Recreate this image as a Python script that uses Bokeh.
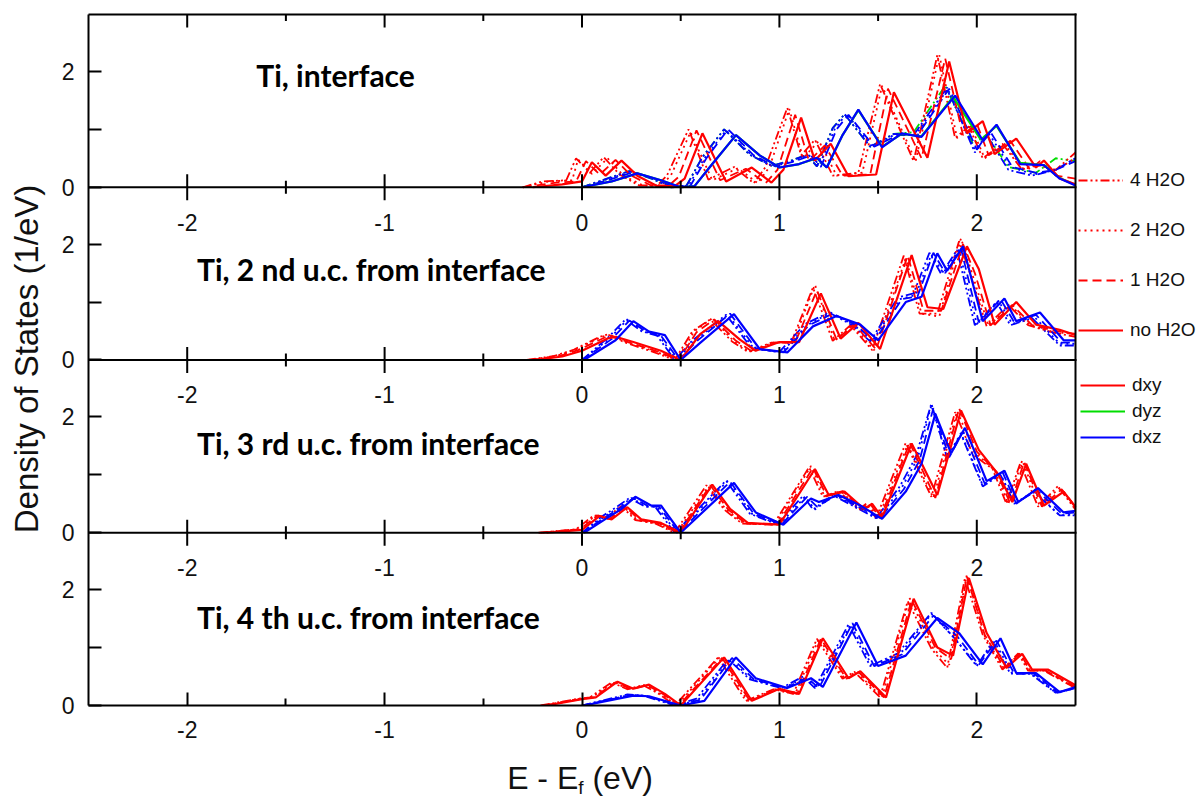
import math
from bokeh.plotting import figure
from bokeh.models import (Range1d, FixedTicker, CustomJSTickFormatter, Legend,
                          LegendItem, Div)
from bokeh.layouts import column
from bokeh.core.properties import value
from bokeh.embed import file_html
from bokeh.resources import INLINE

# ---------------- axis / label data ----------------
X_TICKS = [-2, -1, 0, 1, 2]
X_TICK_LABELS = ["-2", "-1", "0", "1", "2"]
X_MINOR = [-1.5, -0.5, 0.5, 1.5]
X_MIN, X_MAX = -2.5, 2.5
Y_TICKS = [0, 2]
Y_MINOR = [1]
PANEL_TITLES = ["Ti, interface", "Ti, 2 nd u.c. from interface",
                "Ti, 3 rd u.c. from interface", "Ti, 4 th u.c. from interface"]
H2O_LABELS = ["4 H2O", "2 H2O", "1 H2O", "no H2O"]
ORBITAL_LABELS = ["dxy", "dyz", "dxz"]
X_TITLE_HTML = "E - E<sub style=\"font-size:19px;vertical-align:-5px;line-height:0\">f</sub> (eV)"
Y_TITLE = "Density of States (1/eV)"

# ---------------- panel 1 : interface ----------------
P1_DXY_NO_X = [-0.25, -0.1, 0.0, 0.05, 0.12, 0.2, 0.28, 0.38, 0.47, 0.52, 0.61, 0.73, 0.86, 0.96, 1.02, 1.11, 1.18, 1.26, 1.35, 1.49, 1.58, 1.75, 1.86, 1.95, 2.03, 2.09, 2.2, 2.3, 2.34, 2.42, 2.5]
P1_DXY_NO_Y = [0.0, 0.05, 0.1, 0.43, 0.2, 0.46, 0.2, 0.02, 0.02, 0.15, 0.93, 0.1, 0.34, 0.08, 0.3, 1.2, 0.46, 0.75, 0.19, 0.22, 1.64, 0.51, 2.17, 0.93, 1.14, 0.57, 0.84, 0.34, 0.46, 0.15, 0.05]
P1_DXY_1_X = [-0.3, -0.13, -0.03, 0.02, 0.09, 0.17, 0.25, 0.35, 0.44, 0.49, 0.58, 0.7, 0.83, 0.93, 0.99, 1.08, 1.15, 1.23, 1.32, 1.46, 1.55, 1.72, 1.84, 1.93, 2.0, 2.06, 2.17, 2.27, 2.32, 2.4, 2.5]
P1_DXY_1_Y = [0.0, 0.08, 0.1, 0.45, 0.22, 0.47, 0.2, 0.03, 0.03, 0.18, 0.98, 0.12, 0.32, 0.07, 0.3, 1.25, 0.45, 0.72, 0.2, 0.22, 1.7, 0.5, 2.22, 0.9, 1.1, 0.55, 0.8, 0.3, 0.45, 0.2, 0.15]
P1_DXY_2_X = [-0.3, -0.17, -0.05, -0.02, 0.05, 0.13, 0.21, 0.31, 0.4, 0.45, 0.55, 0.66, 0.79, 0.89, 0.95, 1.05, 1.12, 1.2, 1.29, 1.42, 1.52, 1.69, 1.81, 1.9, 1.97, 2.04, 2.14, 2.24, 2.3, 2.4, 2.5]
P1_DXY_2_Y = [0.0, 0.1, 0.12, 0.48, 0.23, 0.5, 0.2, 0.03, 0.03, 0.2, 0.95, 0.12, 0.33, 0.07, 0.35, 1.35, 0.5, 0.8, 0.2, 0.25, 1.75, 0.45, 2.28, 0.85, 1.05, 0.5, 0.75, 0.3, 0.4, 0.3, 0.5]
P1_DXY_4_X = [-0.3, -0.2, -0.08, -0.03, 0.04, 0.11, 0.19, 0.29, 0.38, 0.43, 0.54, 0.64, 0.77, 0.87, 0.93, 1.04, 1.11, 1.18, 1.27, 1.4, 1.51, 1.68, 1.8, 1.89, 1.96, 2.03, 2.13, 2.23, 2.29, 2.4, 2.5]
P1_DXY_4_Y = [0.0, 0.1, 0.12, 0.5, 0.25, 0.52, 0.22, 0.03, 0.03, 0.2, 1.0, 0.13, 0.35, 0.07, 0.35, 1.37, 0.55, 0.82, 0.2, 0.25, 1.78, 0.45, 2.28, 0.85, 1.05, 0.5, 0.75, 0.3, 0.4, 0.3, 0.6]

P1_DXZ_NO_X = [0.0, 0.15, 0.28, 0.4, 0.5, 0.57, 0.66, 0.78, 0.9, 1.0, 1.1, 1.19, 1.24, 1.32, 1.4, 1.52, 1.62, 1.72, 1.89, 2.03, 2.1, 2.22, 2.34, 2.42, 2.5]
P1_DXZ_NO_Y = [0.0, 0.1, 0.24, 0.12, 0.0, 0.02, 0.4, 0.9, 0.55, 0.34, 0.4, 0.51, 0.34, 0.9, 1.34, 0.69, 0.93, 0.87, 1.58, 0.81, 1.08, 0.4, 0.38, 0.15, 0.03]
P1_DXZ_1_X = [0.0, 0.13, 0.26, 0.38, 0.47, 0.55, 0.63, 0.74, 0.87, 0.98, 1.08, 1.16, 1.21, 1.29, 1.35, 1.48, 1.6, 1.7, 1.86, 2.0, 2.07, 2.18, 2.3, 2.4, 2.5]
P1_DXZ_1_Y = [0.0, 0.12, 0.26, 0.13, 0.0, 0.03, 0.5, 1.0, 0.55, 0.36, 0.45, 0.55, 0.35, 1.0, 1.25, 0.7, 0.9, 0.9, 1.7, 0.65, 0.95, 0.35, 0.25, 0.3, 0.45]
P1_DXZ_2_X = [0.0, 0.12, 0.25, 0.37, 0.46, 0.54, 0.62, 0.73, 0.86, 0.97, 1.07, 1.15, 1.2, 1.28, 1.34, 1.47, 1.59, 1.69, 1.85, 1.99, 2.06, 2.17, 2.29, 2.4, 2.5]
P1_DXZ_2_Y = [0.0, 0.13, 0.27, 0.14, 0.0, 0.03, 0.5, 0.98, 0.55, 0.36, 0.45, 0.55, 0.36, 1.0, 1.27, 0.7, 0.92, 0.9, 1.68, 0.65, 0.93, 0.35, 0.22, 0.3, 0.5]
P1_DXZ_4_X = [0.0, 0.12, 0.24, 0.36, 0.45, 0.53, 0.61, 0.72, 0.85, 0.96, 1.06, 1.14, 1.19, 1.27, 1.33, 1.46, 1.58, 1.68, 1.85, 1.99, 2.05, 2.16, 2.28, 2.4, 2.5]
P1_DXZ_4_Y = [0.0, 0.14, 0.28, 0.14, 0.0, 0.03, 0.52, 1.0, 0.56, 0.37, 0.46, 0.56, 0.36, 1.02, 1.26, 0.7, 0.92, 0.9, 1.72, 0.6, 0.9, 0.3, 0.2, 0.3, 0.5]

P1_DYZ_NO_X = [0.0, 0.15, 0.28, 0.4, 0.5, 0.57, 0.66, 0.78, 0.9, 1.0, 1.1, 1.19, 1.24, 1.32, 1.4, 1.52, 1.62, 1.72, 1.88, 2.02, 2.1, 2.22, 2.34, 2.42, 2.5]
P1_DYZ_NO_Y = [0.0, 0.1, 0.24, 0.12, 0.0, 0.02, 0.4, 0.9, 0.55, 0.34, 0.4, 0.5, 0.34, 0.9, 1.33, 0.7, 0.92, 0.88, 1.56, 0.82, 1.06, 0.42, 0.38, 0.16, 0.04]
P1_DYZ_4_X = [0.0, 0.12, 0.24, 0.36, 0.45, 0.53, 0.61, 0.72, 0.85, 0.96, 1.06, 1.14, 1.19, 1.27, 1.33, 1.46, 1.58, 1.68, 1.84, 1.98, 2.05, 2.16, 2.3, 2.4, 2.5]
P1_DYZ_4_Y = [0.0, 0.14, 0.28, 0.14, 0.0, 0.03, 0.52, 1.0, 0.56, 0.37, 0.46, 0.56, 0.36, 1.02, 1.26, 0.7, 0.92, 0.95, 1.75, 0.75, 0.9, 0.35, 0.25, 0.5, 0.45]

# ---------------- panel 2 ----------------
P2_DXY_NO_X = [-0.24, -0.1, 0.0, 0.13, 0.17, 0.26, 0.4, 0.5, 0.6, 0.69, 0.8, 0.88, 1.0, 1.1, 1.21, 1.31, 1.4, 1.51, 1.67, 1.75, 1.83, 1.95, 2.01, 2.09, 2.2, 2.3, 2.42, 2.5]
P2_DXY_NO_Y = [0.0, 0.06, 0.16, 0.37, 0.4, 0.31, 0.16, 0.0, 0.45, 0.67, 0.35, 0.16, 0.31, 0.31, 1.15, 0.37, 0.64, 0.19, 1.81, 0.91, 0.88, 1.96, 1.57, 0.61, 1.0, 0.61, 0.52, 0.43]
P2_DXY_1_X = [-0.26, -0.12, -0.02, 0.11, 0.15, 0.24, 0.38, 0.49, 0.58, 0.67, 0.78, 0.86, 0.98, 1.08, 1.19, 1.29, 1.38, 1.49, 1.65, 1.73, 1.82, 1.93, 1.99, 2.07, 2.18, 2.28, 2.4, 2.5]
P2_DXY_1_Y = [0.0, 0.06, 0.17, 0.38, 0.42, 0.3, 0.15, 0.0, 0.48, 0.7, 0.33, 0.15, 0.3, 0.3, 1.2, 0.35, 0.62, 0.18, 1.8, 0.85, 0.85, 2.0, 1.5, 0.6, 0.95, 0.6, 0.5, 0.45]
P2_DXY_2_X = [-0.27, -0.13, -0.03, 0.1, 0.14, 0.23, 0.37, 0.48, 0.57, 0.66, 0.77, 0.85, 0.97, 1.07, 1.18, 1.28, 1.37, 1.48, 1.64, 1.72, 1.81, 1.92, 1.98, 2.06, 2.17, 2.27, 2.39, 2.5]
P2_DXY_2_Y = [0.0, 0.07, 0.18, 0.4, 0.43, 0.3, 0.15, 0.0, 0.5, 0.72, 0.32, 0.14, 0.3, 0.3, 1.3, 0.33, 0.6, 0.17, 1.75, 0.8, 0.75, 2.1, 1.45, 0.58, 0.95, 0.6, 0.48, 0.45]
P2_DXY_4_X = [-0.28, -0.14, -0.04, 0.09, 0.13, 0.22, 0.36, 0.47, 0.56, 0.65, 0.76, 0.84, 0.96, 1.06, 1.17, 1.27, 1.36, 1.47, 1.63, 1.71, 1.8, 1.91, 1.97, 2.05, 2.16, 2.26, 2.38, 2.5]
P2_DXY_4_Y = [0.0, 0.07, 0.18, 0.4, 0.44, 0.3, 0.14, 0.0, 0.5, 0.7, 0.32, 0.14, 0.3, 0.3, 1.25, 0.33, 0.6, 0.17, 1.8, 0.8, 0.8, 2.05, 1.45, 0.58, 0.95, 0.6, 0.48, 0.4]

P2_DXZ_NO_X = [0.01, 0.17, 0.26, 0.34, 0.42, 0.5, 0.6, 0.77, 0.9, 1.04, 1.17, 1.29, 1.41, 1.5, 1.64, 1.72, 1.8, 1.85, 1.93, 2.03, 2.14, 2.2, 2.32, 2.44, 2.5]
P2_DXZ_NO_Y = [0.0, 0.34, 0.67, 0.49, 0.43, 0.0, 0.3, 0.79, 0.19, 0.13, 0.58, 0.76, 0.61, 0.34, 1.0, 1.09, 1.84, 1.54, 1.96, 0.67, 1.06, 0.67, 0.82, 0.34, 0.34]
P2_DXZ_1_X = [0.0, 0.15, 0.24, 0.32, 0.4, 0.49, 0.58, 0.75, 0.88, 1.02, 1.15, 1.27, 1.39, 1.48, 1.62, 1.7, 1.78, 1.84, 1.92, 2.01, 2.12, 2.19, 2.3, 2.43, 2.5]
P2_DXZ_1_Y = [0.0, 0.36, 0.68, 0.5, 0.42, 0.0, 0.32, 0.8, 0.2, 0.13, 0.6, 0.8, 0.6, 0.32, 1.05, 1.1, 1.85, 1.5, 1.92, 0.65, 1.05, 0.65, 0.78, 0.3, 0.3]
P2_DXZ_2_X = [0.0, 0.14, 0.23, 0.31, 0.39, 0.48, 0.57, 0.74, 0.87, 1.01, 1.14, 1.26, 1.38, 1.47, 1.61, 1.69, 1.77, 1.83, 1.91, 2.0, 2.11, 2.18, 2.29, 2.42, 2.5]
P2_DXZ_2_Y = [0.0, 0.37, 0.7, 0.5, 0.42, 0.0, 0.33, 0.78, 0.2, 0.13, 0.6, 0.82, 0.6, 0.32, 1.05, 1.12, 1.82, 1.5, 1.9, 0.62, 1.02, 0.62, 0.75, 0.28, 0.28]
P2_DXZ_4_X = [0.0, 0.13, 0.22, 0.3, 0.38, 0.47, 0.56, 0.73, 0.86, 1.0, 1.13, 1.25, 1.37, 1.46, 1.6, 1.68, 1.76, 1.82, 1.9, 1.99, 2.1, 2.17, 2.28, 2.42, 2.5]
P2_DXZ_4_Y = [0.0, 0.38, 0.7, 0.5, 0.42, 0.0, 0.34, 0.78, 0.2, 0.14, 0.62, 0.82, 0.6, 0.32, 1.08, 1.15, 1.85, 1.48, 1.9, 0.6, 1.0, 0.6, 0.72, 0.25, 0.25]

# ---------------- panel 3 ----------------
P3_DXY_NO_X = [-0.18, 0.0, 0.09, 0.15, 0.23, 0.3, 0.4, 0.5, 0.66, 0.75, 0.84, 1.0, 1.18, 1.25, 1.33, 1.43, 1.47, 1.52, 1.67, 1.8, 1.92, 2.01, 2.11, 2.18, 2.25, 2.34, 2.44, 2.5]
P3_DXY_NO_Y = [0.0, 0.05, 0.29, 0.23, 0.44, 0.23, 0.17, 0.0, 0.83, 0.41, 0.17, 0.14, 1.1, 0.65, 0.71, 0.41, 0.5, 0.26, 1.54, 0.65, 2.11, 1.43, 1.0, 0.53, 1.19, 0.47, 0.71, 0.44]
P3_DXY_1_X = [-0.2, -0.01, 0.08, 0.14, 0.22, 0.29, 0.39, 0.49, 0.65, 0.74, 0.83, 0.99, 1.17, 1.24, 1.32, 1.42, 1.46, 1.51, 1.66, 1.79, 1.91, 2.0, 2.1, 2.17, 2.24, 2.33, 2.43, 2.5]
P3_DXY_1_Y = [0.0, 0.06, 0.3, 0.24, 0.45, 0.22, 0.16, 0.0, 0.82, 0.4, 0.16, 0.14, 1.12, 0.63, 0.72, 0.4, 0.5, 0.25, 1.55, 0.6, 2.15, 1.4, 1.05, 0.5, 1.22, 0.45, 0.75, 0.45]
P3_DXY_2_X = [-0.21, -0.02, 0.07, 0.13, 0.21, 0.28, 0.38, 0.48, 0.64, 0.73, 0.82, 0.98, 1.16, 1.23, 1.31, 1.41, 1.45, 1.5, 1.65, 1.78, 1.9, 1.99, 2.09, 2.16, 2.23, 2.32, 2.42, 2.5]
P3_DXY_2_Y = [0.0, 0.06, 0.3, 0.24, 0.45, 0.22, 0.16, 0.0, 0.8, 0.4, 0.16, 0.14, 1.15, 0.62, 0.72, 0.4, 0.5, 0.25, 1.52, 0.6, 2.1, 1.38, 1.08, 0.5, 1.25, 0.45, 0.78, 0.45]
P3_DXY_4_X = [-0.22, -0.03, 0.06, 0.12, 0.2, 0.27, 0.37, 0.47, 0.63, 0.72, 0.81, 0.97, 1.15, 1.22, 1.3, 1.4, 1.44, 1.49, 1.64, 1.77, 1.89, 1.98, 2.08, 2.15, 2.22, 2.31, 2.41, 2.5]
P3_DXY_4_Y = [0.0, 0.06, 0.3, 0.25, 0.46, 0.22, 0.16, 0.0, 0.82, 0.4, 0.16, 0.14, 1.13, 0.62, 0.72, 0.4, 0.5, 0.25, 1.55, 0.62, 2.08, 1.35, 1.1, 0.5, 1.2, 0.45, 0.8, 0.4]

P3_DXZ_NO_X = [0.01, 0.13, 0.2, 0.27, 0.35, 0.4, 0.5, 0.77, 0.88, 1.02, 1.16, 1.2, 1.3, 1.41, 1.52, 1.64, 1.72, 1.79, 1.87, 1.94, 2.05, 2.14, 2.21, 2.31, 2.44, 2.5]
P3_DXZ_NO_Y = [0.0, 0.26, 0.41, 0.62, 0.47, 0.47, 0.0, 0.86, 0.35, 0.14, 0.59, 0.53, 0.65, 0.47, 0.24, 0.71, 1.19, 2.05, 1.37, 1.81, 0.89, 1.07, 0.53, 0.77, 0.35, 0.38]
P3_DXZ_1_X = [0.0, 0.12, 0.19, 0.26, 0.34, 0.39, 0.49, 0.75, 0.87, 1.01, 1.14, 1.19, 1.29, 1.4, 1.51, 1.63, 1.71, 1.78, 1.86, 1.93, 2.04, 2.13, 2.2, 2.3, 2.43, 2.5]
P3_DXZ_1_Y = [0.0, 0.27, 0.42, 0.6, 0.45, 0.45, 0.0, 0.88, 0.33, 0.14, 0.62, 0.45, 0.65, 0.45, 0.25, 0.75, 1.25, 2.15, 1.3, 1.75, 0.85, 1.05, 0.5, 0.75, 0.33, 0.35]
P3_DXZ_2_X = [0.0, 0.11, 0.18, 0.25, 0.33, 0.38, 0.48, 0.74, 0.86, 1.0, 1.13, 1.18, 1.28, 1.39, 1.5, 1.62, 1.7, 1.77, 1.85, 1.92, 2.03, 2.12, 2.19, 2.29, 2.42, 2.5]
P3_DXZ_2_Y = [0.0, 0.27, 0.42, 0.6, 0.45, 0.45, 0.0, 0.9, 0.33, 0.14, 0.62, 0.4, 0.65, 0.45, 0.25, 0.78, 1.28, 2.2, 1.3, 1.72, 0.82, 1.02, 0.5, 0.72, 0.3, 0.32]
P3_DXZ_4_X = [0.0, 0.1, 0.17, 0.24, 0.32, 0.37, 0.47, 0.73, 0.85, 0.99, 1.12, 1.17, 1.27, 1.38, 1.49, 1.61, 1.69, 1.77, 1.85, 1.92, 2.03, 2.12, 2.19, 2.29, 2.42, 2.5]
P3_DXZ_4_Y = [0.0, 0.28, 0.43, 0.6, 0.45, 0.45, 0.0, 0.9, 0.33, 0.14, 0.64, 0.4, 0.65, 0.45, 0.25, 0.8, 1.3, 2.23, 1.28, 1.7, 0.8, 1.0, 0.5, 0.7, 0.3, 0.3]

# ---------------- panel 4 ----------------
P4_DXY_NO_X = [-0.18, 0.0, 0.07, 0.18, 0.26, 0.34, 0.42, 0.5, 0.72, 0.86, 1.0, 1.1, 1.22, 1.35, 1.41, 1.54, 1.68, 1.8, 1.88, 1.96, 2.05, 2.15, 2.23, 2.28, 2.36, 2.5]
P4_DXY_NO_Y = [0.0, 0.11, 0.14, 0.41, 0.29, 0.36, 0.2, 0.0, 0.83, 0.08, 0.29, 0.2, 1.16, 0.47, 0.59, 0.14, 1.84, 1.0, 0.86, 2.2, 1.25, 0.65, 0.89, 0.62, 0.62, 0.35]
P4_DXY_1_X = [-0.19, -0.01, 0.06, 0.17, 0.25, 0.33, 0.41, 0.49, 0.71, 0.85, 0.99, 1.09, 1.21, 1.34, 1.4, 1.53, 1.67, 1.79, 1.87, 1.95, 2.04, 2.14, 2.22, 2.27, 2.35, 2.5]
P4_DXY_1_Y = [0.0, 0.11, 0.14, 0.4, 0.28, 0.35, 0.2, 0.0, 0.82, 0.08, 0.28, 0.2, 1.15, 0.46, 0.58, 0.14, 1.82, 1.0, 0.8, 2.22, 1.22, 0.65, 0.9, 0.6, 0.6, 0.32]
P4_DXY_2_X = [-0.2, -0.02, 0.05, 0.16, 0.24, 0.32, 0.4, 0.48, 0.7, 0.84, 0.98, 1.08, 1.2, 1.33, 1.39, 1.52, 1.66, 1.78, 1.86, 1.95, 2.04, 2.14, 2.22, 2.27, 2.35, 2.5]
P4_DXY_2_Y = [0.0, 0.11, 0.14, 0.4, 0.28, 0.35, 0.2, 0.0, 0.84, 0.08, 0.28, 0.2, 1.16, 0.46, 0.58, 0.14, 1.85, 0.98, 0.7, 2.26, 1.2, 0.62, 0.88, 0.6, 0.6, 0.3]
P4_DXY_4_X = [-0.21, -0.03, 0.04, 0.15, 0.23, 0.31, 0.39, 0.47, 0.69, 0.83, 0.97, 1.07, 1.19, 1.32, 1.38, 1.51, 1.65, 1.77, 1.85, 1.94, 2.03, 2.13, 2.21, 2.26, 2.34, 2.5]
P4_DXY_4_Y = [0.0, 0.11, 0.14, 0.4, 0.28, 0.35, 0.2, 0.0, 0.83, 0.08, 0.28, 0.2, 1.15, 0.46, 0.58, 0.14, 1.8, 0.98, 0.65, 2.2, 1.22, 0.62, 0.9, 0.6, 0.6, 0.3]

P4_DXZ_NO_X = [0.01, 0.26, 0.34, 0.5, 0.62, 0.78, 0.88, 1.04, 1.16, 1.22, 1.39, 1.5, 1.64, 1.8, 1.91, 2.03, 2.12, 2.2, 2.3, 2.42, 2.5]
P4_DXZ_NO_Y = [0.0, 0.17, 0.16, 0.0, 0.08, 0.83, 0.47, 0.3, 0.47, 0.32, 1.43, 0.68, 0.86, 1.51, 1.25, 0.71, 1.16, 0.56, 0.56, 0.23, 0.32]
P4_DXZ_1_X = [0.0, 0.25, 0.33, 0.49, 0.6, 0.76, 0.87, 1.03, 1.14, 1.2, 1.37, 1.48, 1.62, 1.78, 1.9, 2.01, 2.1, 2.19, 2.29, 2.41, 2.5]
P4_DXZ_1_Y = [0.0, 0.18, 0.16, 0.0, 0.1, 0.82, 0.45, 0.3, 0.48, 0.3, 1.42, 0.68, 0.88, 1.55, 1.2, 0.7, 1.12, 0.55, 0.55, 0.22, 0.3]
P4_DXZ_2_X = [0.0, 0.24, 0.32, 0.48, 0.59, 0.75, 0.86, 1.02, 1.13, 1.19, 1.36, 1.47, 1.61, 1.77, 1.89, 2.0, 2.09, 2.18, 2.28, 2.4, 2.5]
P4_DXZ_2_Y = [0.0, 0.18, 0.17, 0.0, 0.1, 0.8, 0.45, 0.3, 0.48, 0.3, 1.4, 0.68, 0.88, 1.58, 1.15, 0.7, 1.1, 0.55, 0.55, 0.22, 0.3]
P4_DXZ_4_X = [0.0, 0.23, 0.31, 0.47, 0.58, 0.74, 0.85, 1.01, 1.12, 1.18, 1.35, 1.46, 1.6, 1.77, 1.89, 2.0, 2.08, 2.17, 2.27, 2.4, 2.5]
P4_DXZ_4_Y = [0.0, 0.19, 0.17, 0.0, 0.12, 0.8, 0.45, 0.3, 0.5, 0.3, 1.4, 0.68, 0.9, 1.6, 1.15, 0.68, 1.1, 0.55, 0.55, 0.22, 0.3]

# ---------------- assemble ----------------
CURVES = [
    {"dxy": {"4": (P1_DXY_4_X, P1_DXY_4_Y), "2": (P1_DXY_2_X, P1_DXY_2_Y), "1": (P1_DXY_1_X, P1_DXY_1_Y), "no": (P1_DXY_NO_X, P1_DXY_NO_Y)},
     "dyz": {"4": (P1_DYZ_4_X, P1_DYZ_4_Y), "no": (P1_DYZ_NO_X, P1_DYZ_NO_Y)},
     "dxz": {"4": (P1_DXZ_4_X, P1_DXZ_4_Y), "2": (P1_DXZ_2_X, P1_DXZ_2_Y), "1": (P1_DXZ_1_X, P1_DXZ_1_Y), "no": (P1_DXZ_NO_X, P1_DXZ_NO_Y)}},
    {"dxy": {"4": (P2_DXY_4_X, P2_DXY_4_Y), "2": (P2_DXY_2_X, P2_DXY_2_Y), "1": (P2_DXY_1_X, P2_DXY_1_Y), "no": (P2_DXY_NO_X, P2_DXY_NO_Y)},
     "dyz": {},
     "dxz": {"4": (P2_DXZ_4_X, P2_DXZ_4_Y), "2": (P2_DXZ_2_X, P2_DXZ_2_Y), "1": (P2_DXZ_1_X, P2_DXZ_1_Y), "no": (P2_DXZ_NO_X, P2_DXZ_NO_Y)}},
    {"dxy": {"4": (P3_DXY_4_X, P3_DXY_4_Y), "2": (P3_DXY_2_X, P3_DXY_2_Y), "1": (P3_DXY_1_X, P3_DXY_1_Y), "no": (P3_DXY_NO_X, P3_DXY_NO_Y)},
     "dyz": {},
     "dxz": {"4": (P3_DXZ_4_X, P3_DXZ_4_Y), "2": (P3_DXZ_2_X, P3_DXZ_2_Y), "1": (P3_DXZ_1_X, P3_DXZ_1_Y), "no": (P3_DXZ_NO_X, P3_DXZ_NO_Y)}},
    {"dxy": {"4": (P4_DXY_4_X, P4_DXY_4_Y), "2": (P4_DXY_2_X, P4_DXY_2_Y), "1": (P4_DXY_1_X, P4_DXY_1_Y), "no": (P4_DXY_NO_X, P4_DXY_NO_Y)},
     "dyz": {},
     "dxz": {"4": (P4_DXZ_4_X, P4_DXZ_4_Y), "2": (P4_DXZ_2_X, P4_DXZ_2_Y), "1": (P4_DXZ_1_X, P4_DXZ_1_Y), "no": (P4_DXZ_NO_X, P4_DXZ_NO_Y)}},
]

COLORS = {"dxy": "#ff0000", "dyz": "#00dd00", "dxz": "#0000ff"}
DASHES = {"4": "9 3 2 3 2 3", "2": "2 4", "1": "9 5", "no": "solid"}
WIDTHS = {"4": 1.8, "2": 1.8, "1": 1.8, "no": 2.2}
INK = "#111111"

H = 2.98          # height of one panel in data units
N = 4
PX_PER_X = 197.4  # horizontal scale (px per eV)
PX_PER_Y = 58.0   # vertical scale (px per 1/eV)
TOP_PAD = 2 / PX_PER_Y
TICK_LEN = 13 / PX_PER_Y
RIGHT_SPACE = 128  # px to the right of the plotting box (legend area)

p = figure(width=1203, height=750,
           x_range=Range1d(X_MIN, X_MAX + RIGHT_SPACE / PX_PER_X),
           y_range=Range1d(0, N * H + TOP_PAD),
           output_backend="svg", toolbar_location=None,
           min_border_left=88, min_border_right=0, min_border_top=12, min_border_bottom=45)
p.xgrid.visible = False
p.ygrid.visible = False
p.outline_line_color = None
p.background_fill_color = "white"
p.border_fill_color = "white"

p.extra_y_ranges = {f"p{i}": Range1d(-(N - 1 - i) * H, (i + 1) * H + TOP_PAD) for i in range(N)}

# bottom x axis
xax = p.xaxis[0]
xax.ticker = FixedTicker(ticks=X_TICKS, minor_ticks=X_MINOR)
xax.bounds = (X_MIN, X_MAX)
xax.major_label_overrides = {t: l for t, l in zip(X_TICKS, X_TICK_LABELS)}
xax.major_tick_in = 13
xax.major_tick_out = 0
xax.minor_tick_in = 7
xax.minor_tick_out = 0
xax.axis_line_width = 2
xax.major_tick_line_width = 2
xax.minor_tick_line_width = 2
xax.major_label_text_font = "Liberation Sans"
xax.major_label_text_font_size = "23px"
xax.major_label_text_color = INK
xax.major_label_standoff = 15

# left y axis
yax = p.yaxis[0]
yax.ticker = FixedTicker(ticks=[(N - 1 - i) * H + t for i in range(N) for t in Y_TICKS],
                         minor_ticks=[(N - 1 - i) * H + t for i in range(N) for t in Y_MINOR])
yax.bounds = (0, N * H)
yax.formatter = CustomJSTickFormatter(args=dict(h=H), code="""
const k = Math.floor(tick / h + 1e-6);
return String(Math.round(tick - k * h));
""")
yax.major_tick_in = 13
yax.major_tick_out = 0
yax.minor_tick_in = 13
yax.minor_tick_out = 0
yax.axis_line_width = 2
yax.major_tick_line_width = 2
yax.minor_tick_line_width = 2
yax.major_label_text_font = "Liberation Sans"
yax.major_label_text_font_size = "23px"
yax.major_label_text_color = INK
yax.major_label_standoff = 14
yax.axis_label = Y_TITLE
yax.axis_label_text_font = "Liberation Sans"
yax.axis_label_text_font_size = "33px"
yax.axis_label_text_font_style = "normal"
yax.axis_label_text_color = INK
yax.axis_label_standoff = 14

# curves
renderers = {}
for i, panel in enumerate(CURVES):
    rn = f"p{i}"
    for style in ["4", "2", "1", "no"]:
        for orb in ["dyz", "dxy", "dxz"]:
            if style not in panel[orb]:
                continue
            xs, ys = panel[orb][style]
            r = p.line(xs, ys, y_range_name=rn, line_color=COLORS[orb],
                       line_dash=DASHES[style], line_width=WIDTHS[style])
            renderers[(i, orb, style)] = r

# box: top edge, right edge and the panel separators
p.segment(x0=[X_MIN] * N, x1=[X_MAX] * N, y0=[(N - 1 - i) * H for i in range(N - 1)] + [N * H],
          y1=[(N - 1 - i) * H for i in range(N - 1)] + [N * H],
          line_color="black", line_width=2, line_cap="square")
p.segment(x0=[X_MAX], x1=[X_MAX], y0=[0], y1=[N * H], line_color="black", line_width=2,
          line_cap="square")

# inward ticks on the top edge
p.segment(x0=X_TICKS, x1=X_TICKS, y0=[H] * len(X_TICKS), y1=[H - TICK_LEN] * len(X_TICKS),
          y_range_name="p0", line_color="black", line_width=2)
p.segment(x0=X_MINOR, x1=X_MINOR, y0=[H] * len(X_MINOR), y1=[H - TICK_LEN / 2] * len(X_MINOR),
          y_range_name="p0", line_color="black", line_width=2)

# ticks crossing the separators and their labels
for i in range(N - 1):
    rn = f"p{i}"
    p.segment(x0=X_TICKS, x1=X_TICKS, y0=[-TICK_LEN] * len(X_TICKS), y1=[TICK_LEN] * len(X_TICKS),
              y_range_name=rn, line_color="black", line_width=2)
    p.segment(x0=X_MINOR, x1=X_MINOR, y0=[-TICK_LEN / 2] * len(X_MINOR),
              y1=[TICK_LEN / 2] * len(X_MINOR), y_range_name=rn, line_color="black", line_width=2)
    p.text(x=X_TICKS, y=[0] * len(X_TICKS), text=X_TICK_LABELS, y_range_name=rn,
           y_offset=35, text_align="center", text_baseline="middle",
           text_font=value("Liberation Sans"), text_font_size="23px", text_color=INK)

# panel titles
TITLE_X = [-1.65, -1.95, -1.95, -1.95]
TITLE_Y = [1.93, 1.57, 1.54, 1.53]
for i in range(N):
    p.text(x=[TITLE_X[i]], y=[TITLE_Y[i]], text=[PANEL_TITLES[i]], y_range_name=f"p{i}",
           text_align="left", text_baseline="middle", text_font=value("Lato"),
           text_font_style="bold", text_font_size="30px", text_color="black")

# legends to the right of the box (blank spacer rows give the wider spacing)
spacer = p.line(x=[], y=[], line_alpha=0)
leg_style = dict(orientation="vertical", glyph_width=45, glyph_height=20, label_height=20,
                 spacing=4, padding=0, margin=0, border_line_color=None,
                 background_fill_alpha=0, label_text_font="Liberation Sans",
                 label_text_font_size="19px", label_text_color=INK, label_standoff=7)
h2o_entries = [(H2O_LABELS[0], renderers[(0, "dxy", "4")]), (" ", spacer),
               (H2O_LABELS[1], renderers[(0, "dxy", "2")]), (" ", spacer),
               (H2O_LABELS[2], renderers[(0, "dxy", "1")]), (" ", spacer),
               (H2O_LABELS[3], renderers[(0, "dxy", "no")])]
orb_entries = [(ORBITAL_LABELS[0], renderers[(0, "dxy", "no")]),
               (ORBITAL_LABELS[1], renderers[(0, "dyz", "no")]),
               (ORBITAL_LABELS[2], renderers[(0, "dxz", "no")])]
# location = bottom-left corner of each legend, in px from the frame's bottom-left
leg1 = Legend(items=[LegendItem(label=l, renderers=[r]) for l, r in h2o_entries],
              location=(990, 364), **leg_style)
leg2 = Legend(items=[LegendItem(label=l, renderers=[r]) for l, r in orb_entries],
              location=(992, 257), **leg_style)
p.add_layout(leg1)
p.add_layout(leg2)

xlabel = Div(text=('<div style="width:1150px;text-align:center;font-family:\'Liberation Sans\';'
                   'font-size:32px;line-height:34px;padding-top:6px;color:#111111;">'
                   + X_TITLE_HTML + '</div>'), width=1203, height=49)

layout = column(p, xlabel, spacing=0)
open("out.html", "w").write(file_html(layout, INLINE))
